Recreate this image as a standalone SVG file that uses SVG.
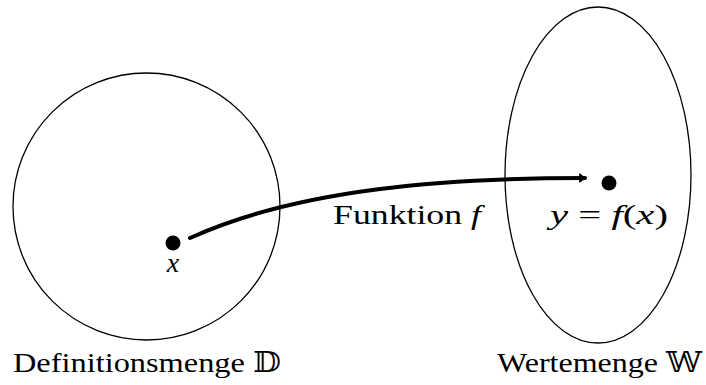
<svg xmlns="http://www.w3.org/2000/svg" width="706" height="385" viewBox="0 0 706 385">
<style>
.set{fill:none;stroke:#000;stroke-width:1.3}
.dot{fill:#000}
.t{font-family:'Liberation Serif','Times New Roman',serif;font-size:28px;fill:#000}
.m{font-style:italic}
.bb{font-family:'DejaVu Serif','DejaVu Sans',serif;font-style:normal}
.conn{fill:none;stroke:#000;stroke-width:4;stroke-linecap:round}
</style>
<defs>
<marker id="ah" markerWidth="10" markerHeight="10" refX="6" refY="5" orient="auto" markerUnits="userSpaceOnUse">
<path d="M0,1 Q3,4 7,5 Q3,6 0,9" fill="none" stroke="#000" stroke-width="2"/>
</marker>
</defs>
<g id="definitionsmenge">
<circle class="set" cx="146.5" cy="206.5" r="133.5"/>
<text class="t" x="13" y="372" textLength="268" lengthAdjust="spacingAndGlyphs">Definitionsmenge <tspan class="bb">𝔻</tspan></text>
</g>
<g id="wertemenge">
<ellipse class="set" cx="598" cy="175" rx="93" ry="168"/>
<text class="t" x="497" y="372" textLength="205" lengthAdjust="spacingAndGlyphs">Wertemenge <tspan class="bb">𝕎</tspan></text>
</g>
<g id="x">
<circle class="dot" cx="173" cy="243" r="7.5"/>
<text class="t m" x="173" y="272" text-anchor="middle">x</text>
</g>
<g id="y">
<circle class="dot" cx="609" cy="183" r="7.5"/>
<text class="t" x="550" y="224" textLength="118" lengthAdjust="spacingAndGlyphs"><tspan class="m">y</tspan> = <tspan class="m">f</tspan>(<tspan class="m">x</tspan>)</text>
</g>
<g id="connectors">
<path class="conn" d="M190,238 C300,188 450,178 585,178" marker-end="url(#ah)"/>
<text class="t" x="333" y="224" textLength="148" lengthAdjust="spacingAndGlyphs">Funktion <tspan class="m">f</tspan></text>
</g>
</svg>
